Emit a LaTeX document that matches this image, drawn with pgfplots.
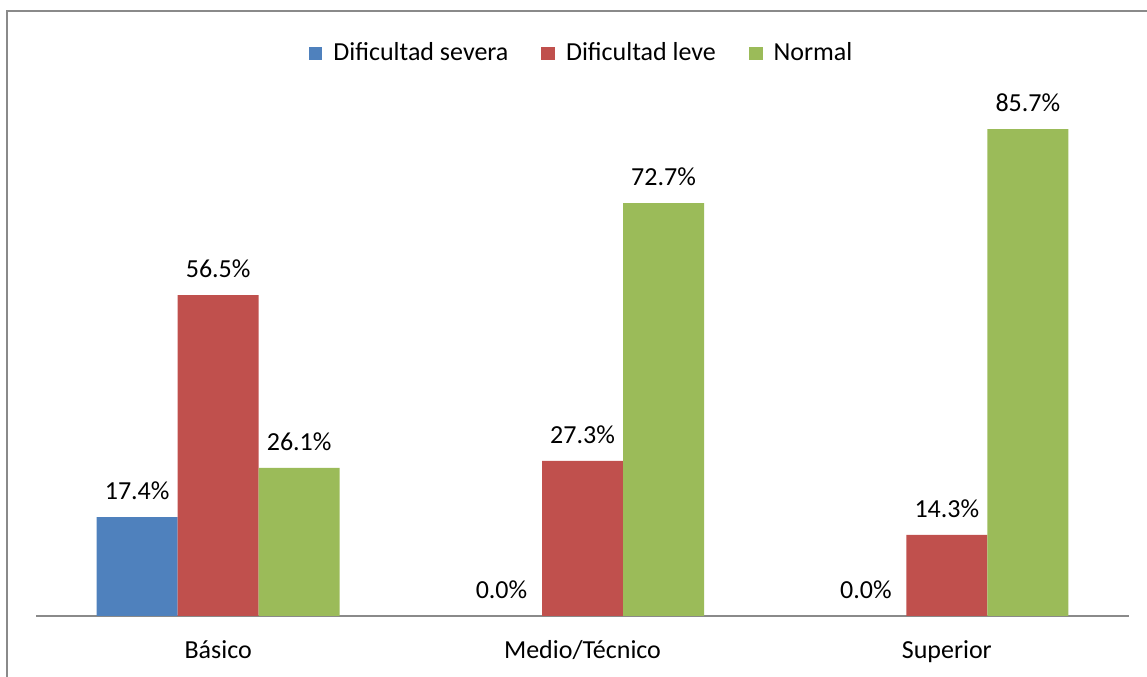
\documentclass[border=0pt]{standalone}
\usepackage{fontspec}
\setmainfont{Carlito}
\usepackage{pgfplots}
\pgfplotsset{compat=1.18}

\definecolor{sevblue}{HTML}{4F81BD}
\definecolor{levred}{HTML}{C0504D}
\definecolor{normgreen}{HTML}{9BBB59}
\definecolor{framegray}{HTML}{8A8A8A}

\begin{document}
\fontsize{13bp}{15.6bp}\selectfont
\begin{tikzpicture}
\useasboundingbox (-18bp,-30.5bp) rectangle (555.5bp,308bp);
% chart frame (left and top edges visible)
\draw[framegray, line width=0.8bp] (-14.5bp,-31bp) -- (-14.5bp,302.5bp) -- (556bp,302.5bp);

\begin{axis}[
    name=ax,
    at={(0,0)}, anchor=south west,
    scale only axis,
    width=546.5bp,
    height=255.6bp,
    ymin=0, ymax=90,
    xmin=-0.5, xmax=2.5,
    xtick={0,1,2},
    xticklabels={Básico, Medio/Técnico, Superior},
    ytick=\empty,
    axis y line=none,
    axis x line*=bottom,
    x axis line style={draw=framegray, line width=1bp},
    major tick length=0pt,
    xticklabel style={anchor=base, yshift=-21bp, font=\fontsize{13bp}{15.6bp}\selectfont},
    ybar=0pt,
    bar width=40.5bp,
    /pgf/number format/assume math mode=true,
    nodes near coords={\pgfmathprintnumber[fixed,fixed zerofill,precision=1]{\pgfplotspointmeta}\%},
    every node near coord/.append style={text=black, yshift=4bp, font=\fontsize{13bp}{15.6bp}\selectfont},
    legend columns=3,
    legend style={draw=none, at={(0.5,1.100)}, anchor=center,
        font=\fontsize{13bp}{15.6bp}\selectfont,
        /tikz/every odd column/.append style={column sep=3.5bp},
        /tikz/every even column/.append style={column sep=14.5bp}},
    legend image code/.code={\fill[#1] (0bp,-3.4bp) rectangle (6.8bp,3.4bp);},
]
\addplot[fill=sevblue, draw=none] coordinates {(0,17.4) (1,0.0) (2,0.0)};
\addplot[fill=levred, draw=none] coordinates {(0,56.5) (1,27.3) (2,14.3)};
\addplot[fill=normgreen, draw=none] coordinates {(0,26.1) (1,72.7) (2,85.7)};
\legend{Dificultad severa, Dificultad leve, Normal}
\end{axis}
\end{tikzpicture}
\end{document}
